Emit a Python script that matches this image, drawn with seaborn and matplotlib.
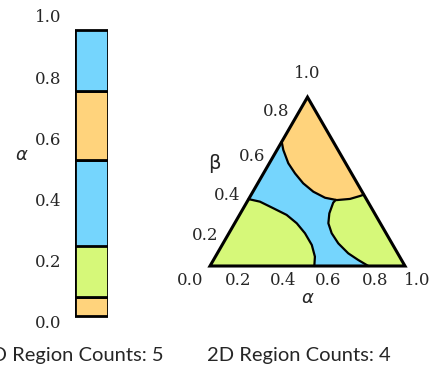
import numpy as np
import matplotlib
matplotlib.use("Agg")
import matplotlib.pyplot as plt
from matplotlib.patches import Polygon
import seaborn as sns

# 1D regions along alpha (bottom, top, colour name)
seg_bottom = [0.02, 0.083, 0.25, 0.53, 0.756]
seg_top = [0.083, 0.25, 0.53, 0.756, 0.954]
seg_color = ["orange", "green", "blue", "orange", "blue"]
ticks_1d = [0.0, 0.2, 0.4, 0.6, 0.8, 1.0]

# 2D region boundaries in the triangle (x along bottom, y up; side = 1)
orange_curve_x = [0.3677, 0.376, 0.4015, 0.436, 0.478, 0.530, 0.590, 0.650, 0.718, 0.769, 0.789]
orange_curve_y = [0.637, 0.595, 0.527, 0.475, 0.424, 0.381, 0.350, 0.338, 0.344, 0.359, 0.366]
green_left_x = [0.198, 0.256, 0.325, 0.393, 0.445, 0.487, 0.522, 0.538, 0.535]
green_left_y = [0.343, 0.330, 0.296, 0.262, 0.219, 0.168, 0.108, 0.048, 0.0]
green_right_x = [0.812, 0.760, 0.709, 0.658, 0.624, 0.607, 0.612, 0.632, 0.645]
green_right_y = [0.0, 0.031, 0.065, 0.116, 0.168, 0.219, 0.270, 0.325, 0.339]
tern_labels = ["0.0", "0.2", "0.4", "0.6", "0.8", "1.0"]

colors = {"blue": "#75D5FD", "orange": "#FFD37C", "green": "#D6F879"}

sns.set_style("white")
plt.rcParams["font.family"] = ["DejaVu Serif"]
lab_fs = 12

fig = plt.figure(figsize=(4.34, 3.67), dpi=100)
W, H = 434, 367

# ---- left: 1D bar
ax1 = fig.add_axes([75 / W, 45 / H, 33 / W, 306 / H])
for b, t, c in zip(seg_bottom, seg_top, seg_color):
    ax1.bar(0.5, t - b, bottom=b, width=1.0, color=colors[c],
            edgecolor="black", linewidth=2.0)
ax1.set_xlim(0, 1)
ax1.set_ylim(0, 1)
ax1.set_yticks(ticks_1d)
ax1.set_yticklabels([f"{v:.1f}" for v in ticks_1d], fontsize=lab_fs)
ax1.set_xticks([])
ax1.tick_params(axis="y", length=0, pad=10)
sns.despine(ax=ax1, left=True, bottom=True)
ax1.text(-1.6, 0.546, r"$\alpha$", fontsize=13, ha="center", va="center")
fig.text(72 / W, 1 - 355 / H, "1D Region Counts: 5", ha="center", va="center",
         fontsize=14.5, family=["Lato", "DejaVu Sans"])

# ---- right: ternary
scale = 195
ax2 = fig.add_axes([(210 - 40) / W, (367 - 266 - 50) / H,
                    (195 + 80) / W, (195 + 100) / H])
ax2.set_xlim(-40 / scale, 1 + 40 / scale)
ax2.set_ylim(-50 / scale, 1 + 50 / scale)
ax2.axis("off")

h = np.sqrt(3) / 2
tri = [(0, 0), (1, 0), (0.5, h)]
ax2.add_patch(Polygon(tri, closed=True, facecolor=colors["blue"], edgecolor="none"))

orange_pts = list(zip(orange_curve_x, orange_curve_y)) + [(0.5, h)]
ax2.add_patch(Polygon(orange_pts, closed=True, facecolor=colors["orange"], edgecolor="none"))

gl_pts = [(0, 0)] + list(zip(green_left_x, green_left_y))
ax2.add_patch(Polygon(gl_pts, closed=True, facecolor=colors["green"], edgecolor="none"))

upper = [(x, y) for x, y in zip(orange_curve_x, orange_curve_y) if x >= 0.65]
gr_pts = list(zip(green_right_x, green_right_y)) + upper + [(1, 0)]
ax2.add_patch(Polygon(gr_pts, closed=True, facecolor=colors["green"], edgecolor="none"))

for cx, cy in [(orange_curve_x, orange_curve_y), (green_left_x, green_left_y),
               (green_right_x, green_right_y)]:
    ax2.plot(cx, cy, color="black", lw=1.6, solid_joinstyle="round")
ax2.add_patch(Polygon(tri, closed=True, facecolor="none", edgecolor="black", lw=2.2,
                      joinstyle="miter"))

bx = [-0.10, 0.144, 0.374, 0.605, 0.846, 1.06]
for x, s in zip(bx, tern_labels):
    ax2.text(x, -0.072, s, ha="center", va="center", fontsize=lab_fs)
lpx = [(205, 235), (226.7, 195), (251.7, 156.7), (276, 111.7), (306.7, 73.3)]
for (px, py), s in zip(lpx, tern_labels[1:]):
    ax2.text((px - 210) / scale, (266 - py) / scale, s, ha="center", va="center", fontsize=lab_fs)
ax2.text((215 - 210) / scale, (266 - 163.3) / scale, r"$\mathrm{\beta}$", ha="center",
         va="center", fontsize=14)
ax2.text((308.3 - 210) / scale, (266 - 298.3) / scale, r"$\alpha$", ha="center",
         va="center", fontsize=13)
fig.text(299 / W, 1 - 355 / H, "2D Region Counts: 4", ha="center", va="center",
         fontsize=14.5, family=["Lato", "DejaVu Sans"])

fig.savefig("out.png", dpi=100)
